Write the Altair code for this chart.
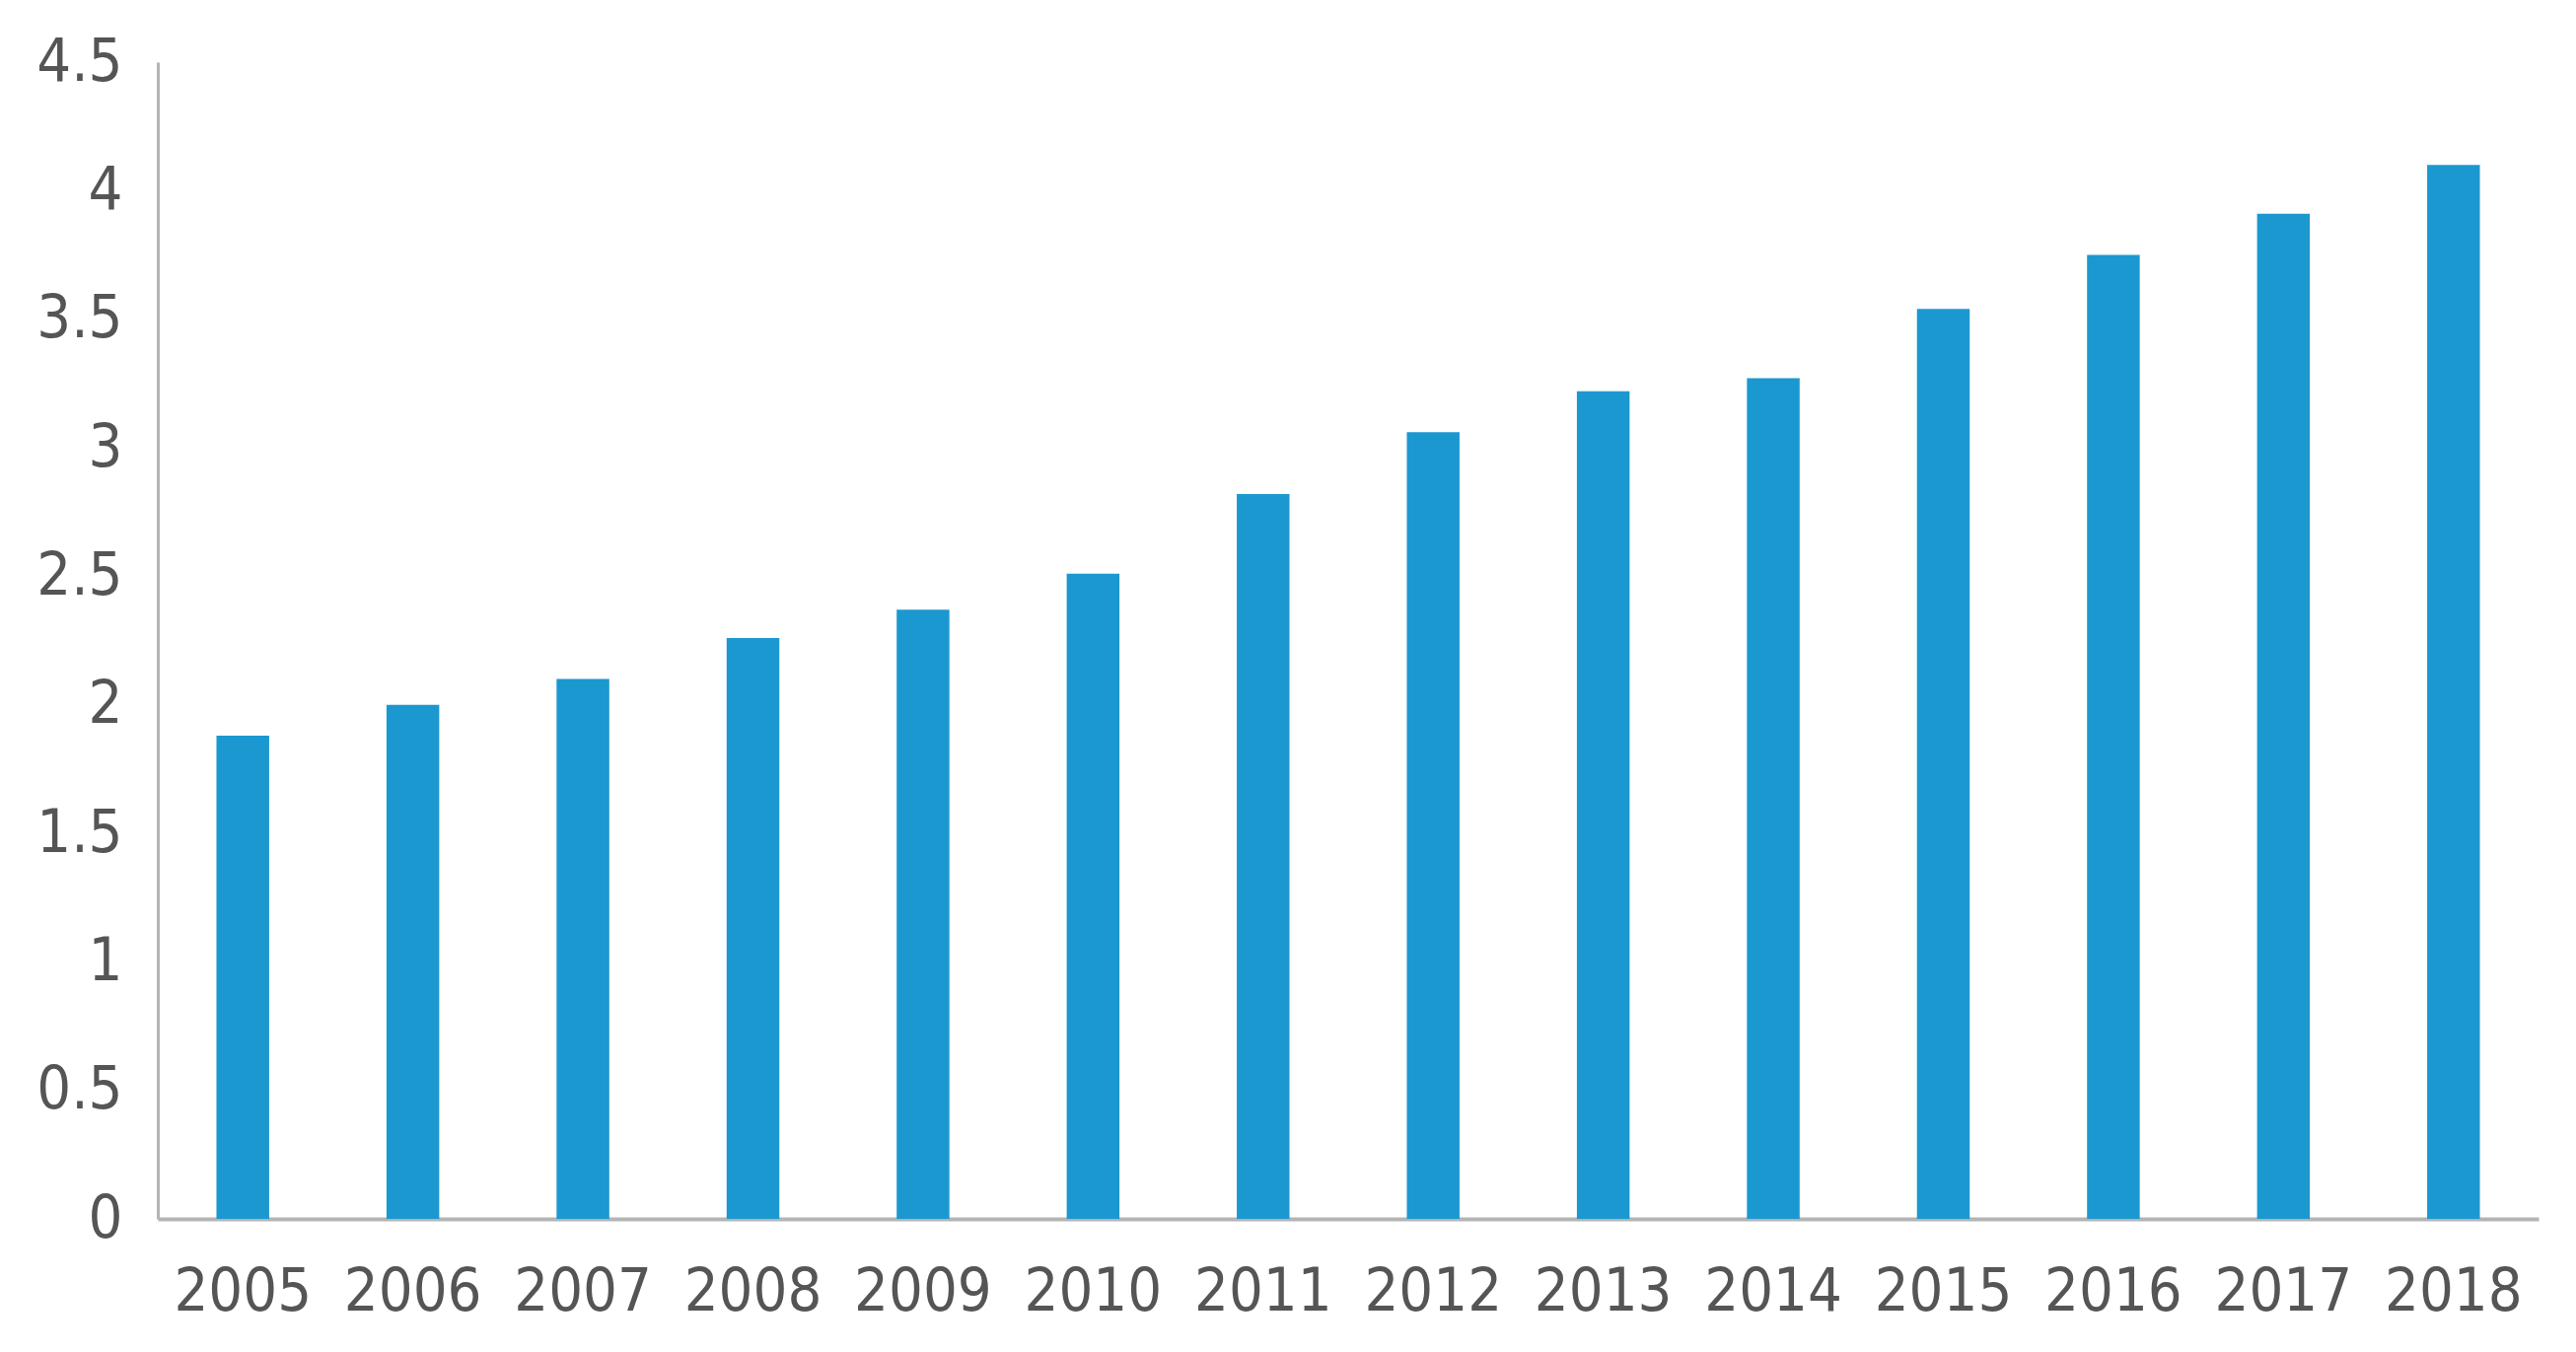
import altair as alt
import pandas as pd

years = ["2005", "2006", "2007", "2008", "2009", "2010", "2011",
         "2012", "2013", "2014", "2015", "2016", "2017", "2018"]
values = [1.88, 2.00, 2.10, 2.26, 2.37, 2.51, 2.82,
          3.06, 3.22, 3.27, 3.54, 3.75, 3.91, 4.10]
y_ticks = [0, 0.5, 1, 1.5, 2, 2.5, 3, 3.5, 4, 4.5]

df = pd.DataFrame({"year": years, "value": values})

FONT = "DejaVu Sans Condensed, Liberation Sans, sans-serif"

chart = alt.Chart(df).mark_bar(color="#1b98d0").encode(
    x=alt.X("year:N", sort=years, title=None,
            scale=alt.Scale(paddingInner=0.69, paddingOuter=0.345),
            axis=alt.Axis(labelAngle=0, labelFont=FONT, labelFontSize=61,
                          labelColor="#555555", labelPadding=44, ticks=False,
                          domainColor="#b4b4b4", domainWidth=4)),
    y=alt.Y("value:Q", title=None,
            scale=alt.Scale(domain=[0, 4.5], nice=False),
            axis=alt.Axis(values=y_ticks, labelFont=FONT, labelFontSize=61,
                          labelColor="#555555", labelPadding=36, ticks=False, grid=False,
                          domainColor="#b4b4b4", domainWidth=3,
                          labelExpr="format(datum.value, '~g')")),
).properties(
    width=2414, height=1173,
    background="white",
    autosize=alt.AutoSizeParams(type="none"),
    padding={"left": 152, "top": 55, "right": 30, "bottom": 120},
).configure_view(stroke="transparent", strokeWidth=0)

chart.save("out.html", embed_options={"renderer": "svg", "actions": False})
